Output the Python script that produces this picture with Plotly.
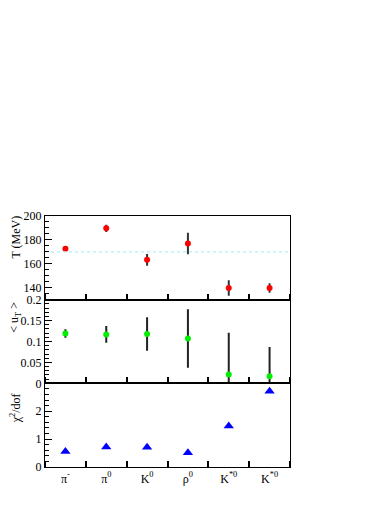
import plotly.graph_objects as go
from plotly.subplots import make_subplots

# particle species (tick labels)
particles = ["π<sup>-</sup>", "π<sup>0</sup>", "K<sup>0</sup>", "ρ<sup>0</sup>",
             "K<sup>*0</sup>", "K<sup>*0</sup>"]
xpos = [0, 1, 2, 3, 4, 5]

# temperature
T = [172.5, 189.7, 163.3, 177.0, 139.7, 139.7]
T_err = [0.0, 3.0, 5.0, 9.0, 6.5, 4.0]
T_ref = 170

# mean transverse flow
uT = [0.119, 0.117, 0.118, 0.107, 0.021, 0.017]
uT_err = [0.010, 0.020, 0.040, 0.070, 0.100, 0.070]

# chi2 / dof
chi2 = [0.56, 0.72, 0.71, 0.51, 1.47, 2.72]

FONT = "Liberation Serif"

fig = make_subplots(rows=3, cols=1, shared_xaxes=True, vertical_spacing=0)

fig.add_trace(go.Scatter(
    x=xpos, y=T, mode="markers",
    marker=dict(color="red", size=6, symbol="circle"),
    error_y=dict(type="data", array=T_err, color="#333333", thickness=2, width=0),
    showlegend=False), row=1, col=1)

fig.add_trace(go.Scatter(
    x=[-0.5, 5.5], y=[T_ref, T_ref], mode="lines",
    line=dict(color="#b0f0f8", width=1.2, dash="dot"),
    showlegend=False), row=1, col=1)

fig.add_trace(go.Scatter(
    x=xpos, y=uT, mode="markers",
    marker=dict(color="#00ee00", size=6, symbol="circle"),
    error_y=dict(type="data", array=uT_err, color="#222222", thickness=2, width=0),
    showlegend=False), row=2, col=1)

fig.add_trace(go.Scatter(
    x=xpos, y=chi2, mode="markers",
    marker=dict(color="blue", size=9, symbol="triangle-up"),
    showlegend=False), row=3, col=1)

xax = dict(range=[-0.5, 5.5], showline=True, mirror=True, linecolor="black",
           linewidth=1.2, showgrid=False, zeroline=False,
           tickmode="array", tickvals=xpos, ticks="", showticklabels=False,
           minor=dict(tickmode="linear", tick0=0.5, dtick=1, ticks="inside",
                      ticklen=6, tickcolor="black", tickwidth=1.5, showgrid=False))
for r in (1, 2, 3):
    fig.update_xaxes(**xax, row=r, col=1)
fig.update_xaxes(showticklabels=True, ticktext=particles,
                 tickfont=dict(family=FONT, size=12, color="black"), row=3, col=1)

yax = dict(showline=True, mirror=True, linecolor="black", linewidth=1.2,
           showgrid=False, zeroline=False, ticks="inside", ticklen=7,
           tickwidth=1, tickcolor="black",
           tickfont=dict(family=FONT, size=12, color="black"))
fig.update_yaxes(**yax, range=[130, 200], tickvals=[140, 160, 180, 200],
                 minor=dict(dtick=5, ticks="inside", ticklen=4, tickcolor="black"),
                 row=1, col=1)
fig.update_yaxes(**yax, range=[0, 0.2], tickvals=[0, 0.05, 0.1, 0.15, 0.2],
                 ticktext=["0", "0.05", "0.1", "0.15", "0.2"],
                 minor=dict(dtick=0.01, ticks="inside", ticklen=4, tickcolor="black"),
                 row=2, col=1)
fig.update_yaxes(**yax, range=[0, 3], tickvals=[0, 1, 2],
                 minor=dict(dtick=0.2, ticks="inside", ticklen=4, tickcolor="black"),
                 row=3, col=1)

# rotated axis titles, aligned near the top of each pad
titles = [("T (MeV)", "y domain", 1.03), ("< u<sub>T</sub> >", "y2 domain", 1.0),
          ("χ<sup>2</sup>/dof", "y3 domain", 0.9)]
for text, yref, ypos in titles:
    fig.add_annotation(text=text, textangle=-90, xref="paper", yref=yref,
                       x=-0.12, y=ypos, xanchor="center", yanchor="top",
                       showarrow=False,
                       font=dict(family=FONT, size=12, color="black"))

fig.update_layout(
    width=375, height=490,
    margin=dict(l=28, r=93, t=208, b=29),
    paper_bgcolor="white", plot_bgcolor="white",
    font=dict(family=FONT, size=12, color="black"),
)

fig.write_html("out.html")
